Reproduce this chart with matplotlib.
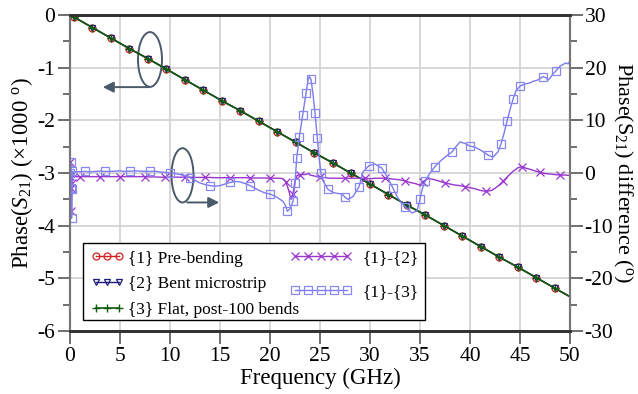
import numpy as np
import matplotlib
matplotlib.use("Agg")
import matplotlib.pyplot as plt
from matplotlib.patches import Ellipse, Rectangle

plt.rcParams['font.family'] = ['Liberation Serif', 'DejaVu Serif']
plt.rcParams['mathtext.fontset'] = 'custom'
plt.rcParams['mathtext.rm'] = 'Liberation Serif'
plt.rcParams['mathtext.it'] = 'Liberation Serif:italic'
plt.rcParams['axes.unicode_minus'] = False

# Phase of S21 (x1000 deg) read at the marker frequencies (GHz)
freq_main = [0, 0.4, 2.25, 4.1, 5.95, 7.8, 9.65, 11.5, 13.35, 15.2, 17.05, 18.9, 20.75,
             22.6, 24.45, 26.3, 28.15, 30.0, 31.85, 33.7, 35.55, 37.4, 39.25, 41.1,
             42.95, 44.8, 46.65, 48.5, 50]
phase_pre = [0, -0.04, -0.24, -0.44, -0.64, -0.83, -1.03, -1.23, -1.43, -1.63, -1.82,
             -2.02, -2.22, -2.42, -2.62, -2.81, -3.01, -3.21, -3.41, -3.61, -3.80,
             -4.00, -4.20, -4.40, -4.60, -4.79, -4.99, -5.19, -5.35]
phase_bent = [0, -0.04, -0.24, -0.44, -0.64, -0.83, -1.03, -1.23, -1.43, -1.63, -1.82,
              -2.02, -2.22, -2.42, -2.62, -2.81, -3.01, -3.21, -3.41, -3.61, -3.80,
              -4.00, -4.20, -4.40, -4.60, -4.79, -4.99, -5.19, -5.35]
phase_flat = [0, -0.04, -0.24, -0.44, -0.64, -0.83, -1.03, -1.23, -1.43, -1.63, -1.82,
              -2.02, -2.22, -2.42, -2.62, -2.81, -3.01, -3.21, -3.41, -3.61, -3.80,
              -4.00, -4.20, -4.40, -4.60, -4.79, -4.99, -5.19, -5.35]

# {1}-{2} difference (deg)
freq_d12 = [0, 0.05, 0.1, 0.15, 0.2, 0.25, 0.3, 0.5, 1, 1.5, 2, 2.5, 3, 3.5, 4, 4.5, 5,
            5.5, 6, 6.5, 7, 7.5, 8, 8.5, 9, 9.5, 10, 10.5, 11, 11.5, 12, 12.5, 13, 13.5,
            14, 14.5, 15, 15.5, 16, 16.5, 17, 17.5, 18, 18.5, 19, 19.5, 20, 20.5, 21,
            21.3, 21.6, 21.9, 22.1, 22.3, 22.5, 22.7, 23.0, 23.5, 23.9, 24.0, 24.5, 25,
            25.5, 26, 26.5, 27, 27.5, 28, 28.5, 29, 29.5, 30, 30.5, 31, 31.5, 32, 32.5,
            33, 33.5, 34, 34.5, 35, 35.3, 35.7, 36, 36.5, 37, 37.5, 38, 38.5, 39, 39.5,
            40, 40.5, 41, 41.6, 42.2, 42.8, 43.3, 43.8, 44.3, 44.8, 45.2, 45.6, 46, 46.5,
            47, 47.5, 48, 48.5, 49, 49.5, 50]
diff_12 = [-0.5, 2.1, -2.9, -7.2, -2.0, -0.5, -0.7, -0.7, -0.7, -0.7, -0.7, -0.7, -0.7,
           -0.7, -0.7, -0.7, -0.7, -0.7, -0.7, -0.7, -0.7, -0.7, -0.75, -0.75, -0.8, -0.8,
           -0.8, -0.8, -0.8, -0.8, -0.8, -0.85, -0.85, -0.85, -0.85, -0.9, -0.9, -0.9,
           -0.9, -0.9, -0.9, -0.9, -0.95, -0.95, -0.95, -0.95, -1.0, -1.0, -1.0,
           -1.1, -1.7, -3.5, -5.0, -4.0, -1.5, -0.5, -0.3, -0.3, -0.1, -0.4, -0.6, -0.8,
           -0.9, -1.0, -1.0, -1.0, -1.0, -1.0, -1.0, -1.0, -1.0, -1.1, -1.0, -1.0, -1.0,
           -1.1, -1.2, -1.3, -1.5, -1.8, -2.0, -2.3, -1.7, -1.1, -1.1, -1.3, -1.6, -1.9,
           -2.1, -2.3, -2.4, -2.6, -2.8, -3.0, -3.3, -3.5, -3.3, -2.5, -1.6, -0.6, 0.3,
           1.0, 1.2, 0.9, 0.7, 0.4, 0.1, -0.1, -0.2, -0.3, -0.4, -0.4, -0.5]

# {1}-{3} difference (deg)
freq_d13 = [0, 0.05, 0.08, 0.12, 0.16, 0.2, 0.24, 0.3, 0.5, 1, 1.5, 2, 2.5, 3, 3.5, 4,
            4.5, 5, 5.5, 6, 6.5, 7, 7.5, 8, 8.5, 9, 9.5, 10, 10.5, 11, 11.5, 12, 12.5, 13,
            13.5, 14, 14.5, 15, 15.5, 16, 16.5, 17, 17.5, 18, 18.5, 19, 19.5, 20, 20.5,
            21, 21.3, 21.5, 21.75, 22.0, 22.3, 22.5, 22.67, 22.93, 23.27, 23.6, 23.8,
            23.93, 24.1, 24.3, 24.5, 24.73, 24.93, 25.1, 25.3, 25.8, 26.3, 26.8, 27.2,
            27.5, 27.8, 28.3, 28.9, 29.3, 29.9, 30.5, 31.2, 31.8, 32.3, 32.8, 33.5, 34.2,
            34.7, 35.0, 35.2, 35.5, 36.0, 36.5, 37, 37.5, 38.2, 38.6, 39.0, 39.5, 40,
            40.5, 41, 41.5, 41.8, 42.3, 42.8, 43.1, 43.4, 43.7, 44.0, 44.3, 44.6, 45.0,
            45.5, 46.0, 46.3, 46.7, 47.0, 47.3, 47.6, 47.8, 48.0, 48.3, 48.6, 49.0, 49.3,
            49.6, 49.8, 50]
diff_13 = [0.0, 1.5, 2.0, -2.9, -8.6, -3.0, 0.3, 0.2, 0.2, 0.25, 0.3, 0.2, 0.3, 0.35,
           0.3, 0.3, 0.35, 0.4, 0.3, 0.35, 0.4, 0.35, 0.3, 0.3, 0.35, 0.2, 0.1, 0.0,
           -0.1, -0.3, -0.5, -0.9, -1.4, -1.9, -2.2, -2.4, -2.5, -2.4, -2.1, -1.8, -1.6,
           -1.7, -2.0, -2.4, -2.9, -3.4, -3.8, -4.0, -4.4, -5.0, -5.4, -6.0, -7.3, -6.8,
           -5.4, -2.0, 2.8, 6.8, 11.0, 15.2, 17.6, 18.3, 17.8, 15.0, 11.4, 6.6, 2.5, 0.0,
           -1.5, -3.1, -3.7, -3.9, -4.0, -4.6, -5.0, -4.5, -2.6, 0.2, 1.4, 1.7, 0.9,
           -1.0, -2.9, -4.8, -6.4, -7.6, -7.2, -5.0, -3.2, -1.6, 0.0, 1.2, 2.2, 3.0, 4.0,
           5.0, 5.9, 5.6, 5.1, 4.9, 4.4, 3.8, 3.4, 3.0, 4.0, 5.5, 7.5, 9.8, 12.0, 14.0,
           15.6, 16.5, 16.9, 17.1, 17.4, 17.6, 17.9, 18.3, 18.1, 17.6, 18.0, 18.8, 19.4,
           20.3, 20.6, 20.9, 20.7, 21.3]

fig = plt.figure(figsize=(6.38, 3.94), dpi=100)
ax = fig.add_axes([0.1097, 0.16, 0.7837, 0.802])
ax2 = ax.twinx()

ax.grid(True, color='#d4d4d4', lw=1.3)
ax.set_axisbelow(True)

every = slice(1, -1)
l1, = ax.plot(freq_main, phase_pre, '-', color='#d62020', lw=1.0, marker='o', ms=5,
              mfc='none', mew=0.9, markevery=every)
l2, = ax.plot(freq_main, phase_bent, '-', color='#1c1c7a', lw=1.0, marker='v', ms=4.5,
              mfc='none', mew=0.9, markevery=every)
l3, = ax.plot(freq_main, phase_flat, '-', color='#0f5e0f', lw=1.2, marker='+', ms=6,
              mew=1.0, markevery=every)

l4, = ax2.plot(freq_d12, diff_12, '-', color='#9a35d0', lw=1.0, marker='x', ms=6,
               mew=0.9, markevery=0.0359)
l5, = ax2.plot(freq_d13, diff_13, '-', color='#7b7bf2', lw=1.0, marker='s', ms=6,
               mfc='none', mec='#8888f0', mew=0.9, markevery=0.0359)

ax.set_xlim(0, 50)
ax.set_ylim(-6, 0)
ax2.set_ylim(-30, 30)
ax.set_xticks(np.arange(0, 51, 5))
ax.set_yticks(np.arange(-6, 1, 1))
ax.set_yticks(np.arange(-5.5, 0, 1), minor=True)
ax2.set_yticks(np.arange(-30, 31, 10))
ax2.set_yticks(np.arange(-25, 30, 10), minor=True)

tc = '#555555'
ax.tick_params(axis='x', which='major', direction='out', length=9, width=1.2, color=tc,
               labelsize=15.5, pad=2.5)
ax.tick_params(axis='y', which='major', direction='out', length=9, width=1.2, color=tc,
               labelsize=15.5, pad=1.5)
ax.tick_params(axis='y', which='minor', direction='out', length=5, width=1.2, color=tc)
ax2.tick_params(axis='y', which='major', direction='out', length=9, width=1.2, color=tc,
                labelsize=15.5, pad=1.5)
ax2.tick_params(axis='y', which='minor', direction='out', length=5, width=1.2, color=tc)

for a in (ax, ax2):
    a.spines['top'].set_color('#333333')
    a.spines['bottom'].set_color('#333333')
    a.spines['top'].set_linewidth(2)
    a.spines['bottom'].set_linewidth(2)
    a.spines['left'].set_color('#777777')
    a.spines['right'].set_color('#777777')
    a.spines['left'].set_linewidth(1.5)
    a.spines['right'].set_linewidth(1.5)

ax.set_xlabel('Frequency (GHz)', fontsize=16.5, labelpad=1)
ax.set_ylabel('Phase($S_{21}$) (\u00d71000 $^{\\mathrm{o}}$)', fontsize=16.5, labelpad=2)
ax2.set_ylabel('Phase($\\mathrm{S}_{21}$) difference ($^{\\mathrm{o}}$)', fontsize=16,
               rotation=-90, labelpad=15)

# annotations: ellipses with arrows pointing to the relevant axis
ac = '#4b5a6b'
ax.add_patch(Ellipse((8.0, -0.845), 2.4, 1.04, fill=False, ec=ac, lw=1.4))
ax.annotate('', xy=(3.0, -1.37), xytext=(8.2, -1.37),
            arrowprops=dict(arrowstyle='-|>', color=ac, lw=1.4, mutation_scale=16))
ax.add_patch(Ellipse((11.25, -3.045), 2.2, 1.03, fill=False, ec=ac, lw=1.4))
ax.annotate('', xy=(15.2, -3.56), xytext=(11.45, -3.56),
            arrowprops=dict(arrowstyle='-|>', color=ac, lw=1.4, mutation_scale=16))

# legend: two columns inside one frame
leg1 = ax2.legend([l1, l2, l3], ['{1} Pre-bending', '{2} Bent microstrip',
                                 '{3} Flat, post-100 bends'],
                  loc='upper left', bbox_to_anchor=(0.042, 0.255), frameon=False,
                  fontsize=12.5, numpoints=3, handlelength=1.9, handletextpad=0.25,
                  labelspacing=0.55, borderpad=0, borderaxespad=0)
ax2.add_artist(leg1)
ax2.legend([l4, l5], ['{1}-{2}', '{1}-{3}'], loc='upper left',
           bbox_to_anchor=(0.44, 0.255), frameon=False, fontsize=12.5, numpoints=5,
           handlelength=3.6, handletextpad=0.55, labelspacing=1.0, borderpad=0,
           borderaxespad=0)
ax2.add_patch(Rectangle((0.0254, 0.0348), 0.6846, 0.2442, transform=ax2.transAxes,
                        fill=True, fc='white', ec='black', lw=1.0, zorder=4))

fig.savefig('out.png', dpi=100)
